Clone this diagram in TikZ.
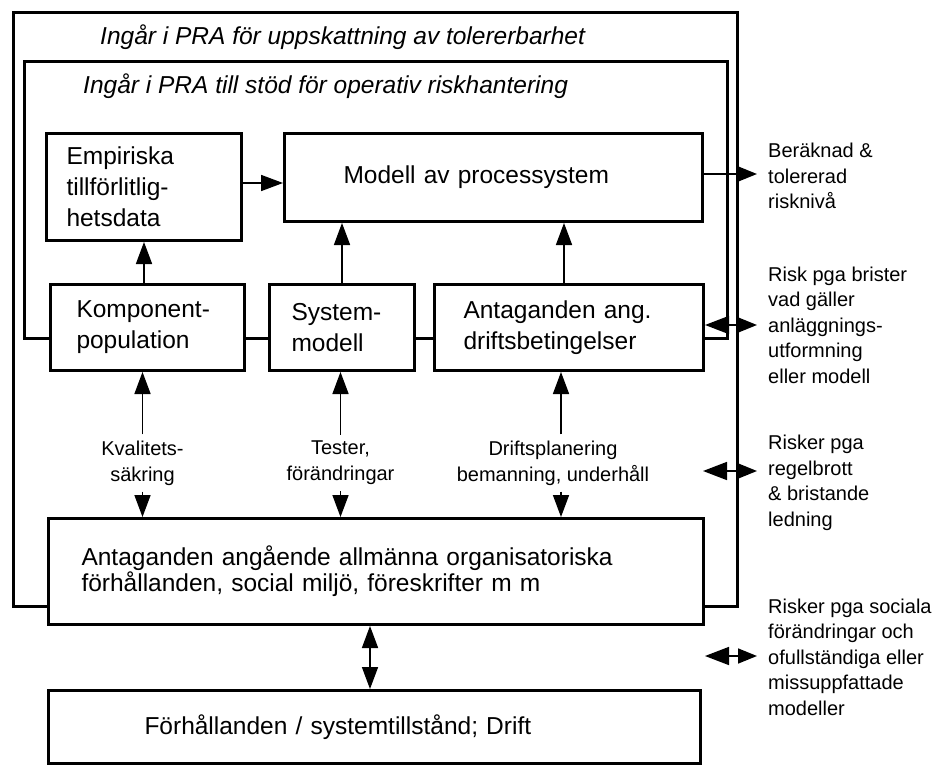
\documentclass[tikz,border=0pt]{standalone}
\usepackage{fontspec}
\setmainfont{Liberation Sans}
\usetikzlibrary{arrows.meta}
\tikzset{
  bigtri/.tip={Triangle[length=22pt,width=16pt]},
  lefttri/.tip={Triangle[length=24pt,width=18pt]},
  righttri/.tip={Triangle[length=19pt,width=15pt]},
  frame/.style={line width=3pt},
  box/.style={draw, line width=3pt, fill=white, anchor=north west, inner ysep=0pt, align=left, font=\fontsize{24.5}{31}\selectfont},
  hdr/.style={font=\fontsize{24.5}{30}\selectfont\itshape, anchor=base west, inner sep=0pt},
  lbl/.style={font=\fontsize{20}{26}\selectfont, align=center, inner xsep=2pt, inner ysep=6pt},
  side/.style={font=\fontsize{20}{25.5}\selectfont, align=left, anchor=west, inner sep=0pt},
  arr/.style={line width=1.6pt, -bigtri},
  darr/.style={line width=1.6pt, bigtri-bigtri},
  rarr/.style={line width=1.6pt, -righttri},
  rdarr/.style={line width=1.6pt, lefttri-righttri},
}
\begin{document}
\begin{tikzpicture}[x=1pt,y=-1pt]
\useasboundingbox (0,0) rectangle (935,765);
% frames
\draw[frame] (13,13) rectangle (737,606);
\draw[frame] (24,62) rectangle (727,338);
\node[hdr] (h1) at (100,45) {Ingår i PRA för uppskattning av tolererbarhet};
\node[hdr] (h2) at (83,94) {Ingår i PRA till stöd för operativ riskhantering};
% boxes
\node[box, minimum width=195pt, minimum height=107pt, inner xsep=20pt, text width=155pt] (emp) at (45,132) {Empiriska\\tillförlitlig-\\hetsdata};
\node[box, minimum width=418pt, minimum height=88pt, inner xsep=59pt, text width=300pt] (mod) at (283,132) {Modell av processystem};
\node[box, minimum width=194pt, minimum height=86pt, inner xsep=26pt, text width=142pt] (komp) at (49,283) {Komponent-\\population};
\node[box, minimum width=145pt, minimum height=86pt, inner xsep=22pt, text width=101pt] (sysm) at (268,283) {System-\\modell};
\node[box, minimum width=269pt, minimum height=86pt, inner xsep=29pt, text width=211pt] (ant) at (433,283) {Antaganden ang.\\driftsbetingelser};
\node[box, minimum width=655pt, minimum height=106pt, inner xsep=33pt, text width=589pt, font=\fontsize{24.5}{26}\selectfont] (org) at (47,517) {Antaganden angående allmänna organisatoriska\\förhållanden, social miljö, föreskrifter m m};
\node[box, minimum width=652pt, minimum height=73pt, inner xsep=96pt, text width=460pt] (drift) at (47,689) {Förhållanden / systemtillstånd; Drift};
% upper arrows
\draw[arr] (komp.north -| emp.south) -- (emp.south);
\draw[arr] (sysm.north) -- (sysm.north |- mod.south);
\draw[arr] ([xshift=-5pt]ant.north) -- ([xshift=-5pt]ant.north |- mod.south);
\draw[arr] ([yshift=4pt]emp.east) -- ([yshift=4pt]emp.east -| mod.west);
% lower labels and arrows
\node[lbl] (kq) at (142.5,463) {Kvalitets-\\säkring};
\node[lbl] (ts) at (340.5,463) {Tester,\\förändringar};
\node[lbl] (dp) at (553,463) {Driftsplanering\\bemanning, underhåll};
\draw[arr] (kq.north) -- (kq.north |- komp.south);
\draw[arr] (kq.south) -- (kq.south |- org.north);
\draw[arr] (ts.north) -- (ts.north |- sysm.south);
\draw[arr] (ts.south) -- (ts.south |- org.north);
\draw[arr] ([xshift=8pt]dp.north) -- ([xshift=8pt]dp.north |- ant.south);
\draw[arr] ([xshift=8pt]dp.south) -- ([xshift=8pt]dp.south |- org.north);
\draw[darr] ([xshift=-6pt]org.south) -- ([xshift=-6pt]org.south |- drift.north);
% right side
\coordinate (e1) at (757,174);
\coordinate (e2) at (757,325);
\coordinate (w3) at (703,471);
\coordinate (e3) at (757,471);
\coordinate (e4) at (757,656);
\draw[rarr] (mod.east |- e1) -- (e1);
\draw[rdarr] (ant.east |- e2) -- (e2);
\draw[rdarr] (w3) -- (e3);
\draw[rdarr] (org.east |- e4) -- (e4);
\node[side] (s1) at (768,176) {Beräknad \&\\tolererad\\risknivå};
\node[side] (s2) at (768,325) {Risk pga brister\\vad gäller\\anläggnings-\\utformning\\eller modell};
\node[side] (s3) at (768,483) {Risker pga\\regelbrott\\\& bristande\\ledning};
\node[side] (s4) at (768,657) {Risker pga sociala\\förändringar och\\ofullständiga eller\\missuppfattade\\modeller};
\end{tikzpicture}
\end{document}
